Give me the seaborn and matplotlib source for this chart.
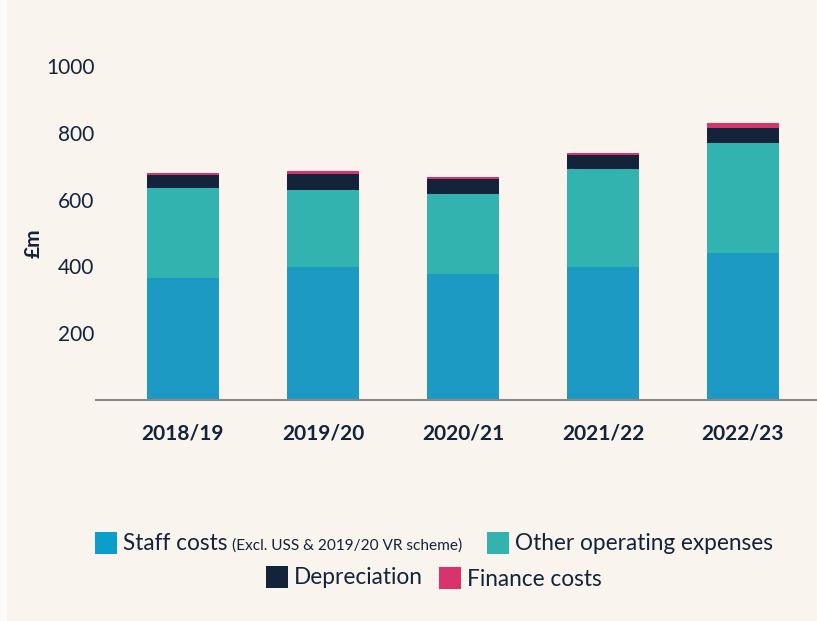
import matplotlib
matplotlib.use("Agg")
import matplotlib.pyplot as plt
from matplotlib.patches import Rectangle
import seaborn as sns
import numpy as np
import pandas as pd

years = ["2018/19", "2019/20", "2020/21", "2021/22", "2022/23"]
staff_costs = [366, 399, 378, 399, 441]
other_operating = [270, 231, 240, 294, 327]
depreciation = [39, 48, 45, 42, 45]
finance_costs = [6, 9, 6, 6, 15]

series_names = ["Staff costs", "Other operating expenses", "Depreciation", "Finance costs"]
series_values = [staff_costs, other_operating, depreciation, finance_costs]
colors = ["#1c9ac3", "#33b3af", "#12233a", "#d9336b"]
legend_colors = ["#0a9fca", "#33b3af", "#12233a", "#d9336b"]
yticks = [200, 400, 600, 800, 1000]

TXT = "#13233a"
BG = "#f9f4ee"

sns.set_theme(style="white")
plt.rcParams["font.family"] = ["Lato", "DejaVu Sans"]

W, H = 817, 621
fig = plt.figure(figsize=(W / 100, H / 100), dpi=100, facecolor=BG)
fig.add_artist(Rectangle((0, 0), 7 / W, 1, transform=fig.transFigure,
                         facecolor="#fcfbf9", edgecolor="none", zorder=0))

ax_left = 96 / W
ax_bottom = 1 - 400 / H
ax_h = 1100 * 0.334 / H
ax = fig.add_axes([ax_left, ax_bottom, 1 - ax_left, ax_h])
ax.set_facecolor(BG)

df = pd.DataFrame({"year": years})
bottom = np.zeros(len(years))
for name, vals, col in zip(series_names, series_values, colors):
    df["val"] = vals
    sns.barplot(data=df, x="year", y="val", order=years, bottom=bottom,
                color=col, width=72 / 140, saturation=1, ax=ax,
                edgecolor="none", linewidth=0)
    bottom = bottom + np.array(vals)

ax.set_xlim((96 - 183) / 140, (817 - 183) / 140)
ax.set_ylim(0, 1100)
ax.set_yticks(yticks)
ax.set_yticklabels([str(v) for v in yticks], fontsize=15, color=TXT)
ax.tick_params(axis="y", length=0, pad=1)
ax.tick_params(axis="x", length=0, pad=17)
for lab in ax.get_xticklabels():
    lab.set_fontsize(15)
    lab.set_fontweight("bold")
    lab.set_color(TXT)
ax.set_xlabel("")
ax.set_ylabel("£m", fontsize=15, fontweight="bold", color=TXT)
ax.yaxis.set_label_coords((44 - 96) / (W - 96), (400 - 243) / (1100 * 0.334))
for s in ["top", "right", "left"]:
    ax.spines[s].set_visible(False)
ax.spines["bottom"].set_color("#8a8a8a")
ax.spines["bottom"].set_linewidth(1.5)
ax.grid(False)

def fx(x):
    return x / W

def fy(y):
    return 1 - y / H

def square(x0, y0, col):
    fig.add_artist(Rectangle((fx(x0), fy(y0 + 22)), 22 / W, 22 / H,
                             transform=fig.transFigure, facecolor=col,
                             edgecolor="none"))

LFS = 16.3
# Legend row 1
square(95, 532, legend_colors[0])
fig.text(fx(123), fy(544), "Staff costs", fontsize=LFS, color=TXT, va="center", ha="left")
fig.text(fx(232), fy(546), "(Excl. USS & 2019/20 VR scheme)", fontsize=11.1, color=TXT,
         va="center", ha="left")
square(487, 532, legend_colors[1])
fig.text(fx(515), fy(544), "Other operating expenses", fontsize=LFS, color=TXT,
         va="center", ha="left")
# Legend row 2
square(266, 566, legend_colors[2])
fig.text(fx(294), fy(578), "Depreciation", fontsize=LFS, color=TXT, va="center", ha="left")
square(439, 567, legend_colors[3])
fig.text(fx(467), fy(580), "Finance costs", fontsize=LFS, color=TXT, va="center", ha="left")

fig.savefig("out.png", dpi=100, facecolor=BG)
